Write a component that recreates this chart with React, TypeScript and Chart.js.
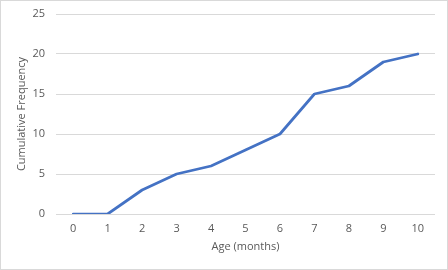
import React, { useEffect, useRef } from "react";
import { Chart, registerables } from "chart.js";

Chart.register(...registerables);

const ages = ["0", "1", "2", "3", "4", "5", "6", "7", "8", "9", "10"];
const cumulativeFrequency = [0, 0, 3, 5, 6, 8, 10, 15, 16, 19, 20];
const xTitle = "Age (months)";
const yTitle = "Cumulative Frequency";

const FONT = "'Open Sans', 'Liberation Sans', sans-serif";
const TEXT = "#595959";
const GRID = "#d9d9d9";

export default function App() {
  const ref = useRef<HTMLCanvasElement | null>(null);

  useEffect(() => {
    document.body.style.margin = "0";
    const canvas = ref.current;
    if (!canvas) return;
    const borderPlugin = {
      id: "outerBorder",
      afterDraw(chart: any) {
        const ctx = chart.ctx;
        ctx.save();
        ctx.strokeStyle = GRID;
        ctx.lineWidth = 1;
        ctx.strokeRect(0.5, 0.5, chart.width - 1, chart.height - 1);
        ctx.restore();
      },
      beforeDraw(chart: any) {
        const ctx = chart.ctx;
        ctx.save();
        ctx.fillStyle = "#ffffff";
        ctx.fillRect(0, 0, chart.width, chart.height);
        ctx.restore();
      },
    };
    const chart = new Chart(canvas, {
      type: "line",
      data: {
        labels: ages,
        datasets: [
          {
            data: cumulativeFrequency,
            borderColor: "#4472C4",
            backgroundColor: "#4472C4",
            borderWidth: 2.75,
            pointRadius: 0,
            tension: 0,
            borderCapStyle: "round",
            borderJoinStyle: "round",
          },
        ],
      },
      options: {
        animation: false,
        responsive: false,
        maintainAspectRatio: false,
        layout: { padding: { top: 14, right: 13, left: 0, bottom: 0 } },
        plugins: { legend: { display: false }, tooltip: { enabled: false } },
        scales: {
          x: {
            offset: true,
            grid: { display: false, drawTicks: false },
            border: { display: false },
            ticks: {
              color: TEXT,
              font: { family: FONT, size: 11 },
              padding: 8,
              maxRotation: 0,
            },
            title: {
              display: true,
              text: xTitle,
              color: TEXT,
              font: { family: FONT, size: 11 },
              padding: { top: 0, bottom: 17 },
            },
            afterFit(scale: any) {
              scale.height = 56;
              scale.paddingLeft = 0;
              scale.paddingRight = 0;
            },
          },
          y: {
            min: 0,
            max: 25,
            ticks: {
              stepSize: 5,
              color: TEXT,
              font: { family: FONT, size: 11 },
              padding: 11,
            },
            grid: { color: GRID, drawTicks: false, lineWidth: 1 },
            border: { display: false },
            title: {
              display: true,
              text: yTitle,
              color: TEXT,
              font: { family: FONT, size: 11 },
              padding: { top: 15, bottom: 0 },
            },
            afterFit(scale: any) {
              scale.width = 56;
              scale.paddingTop = 0;
              scale.paddingBottom = 0;
            },
          },
        },
      },
      plugins: [borderPlugin],
    } as any);
    return () => chart.destroy();
  }, []);

  return (
    <div style={{ width: 448, height: 270 }}>
      <canvas ref={ref} width={448} height={270} style={{ display: "block" }} />
    </div>
  );
}
